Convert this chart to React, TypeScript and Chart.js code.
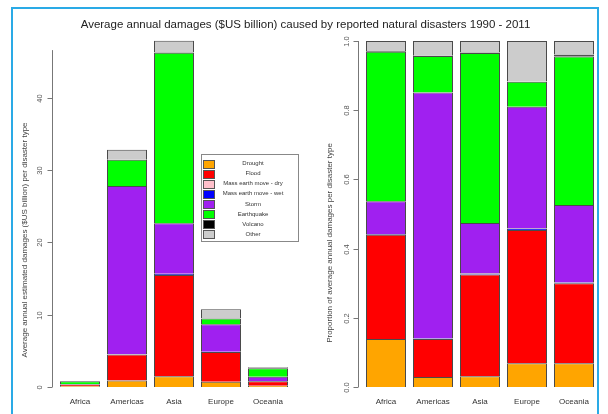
import { useEffect, useRef } from "react";
import { Chart, registerables } from "chart.js";
Chart.register(...registerables);

const chartTitle = "Average annual damages ($US billion) caused by reported natural disasters 1990 - 2011";
const regions = ["Africa", "Americas", "Asia", "Europe", "Oceania"];
const disasterTypes = [
  "Drought",
  "Flood",
  "Mass earth move - dry",
  "Mass earth move - wet",
  "Storm",
  "Earthquake",
  "Volcano",
  "Other",
];
const typeColors = ["#FFA500", "#FF0000", "#FFC0CB", "#0000FF", "#A020F0", "#00FF00", "#000000", "#CCCCCC"];

// Average annual damages, $US billion
const droughtDamage = [0.11, 0.9, 1.5, 0.73, 0.19];
const floodDamage = [0.24, 3.6, 14.0, 4.12, 0.62];
const massDryDamage = [0, 0, 0, 0, 0];
const massWetDamage = [0.005, 0.02, 0.15, 0.04, 0.005];
const stormDamage = [0.075, 23.3, 7.0, 3.8, 0.61];
const earthquakeDamage = [0.35, 3.6, 23.6, 0.8, 1.16];
const volcanoDamage = [0.002, 0.01, 0.05, 0.01, 0.02];
const otherDamage = [0.025, 1.4, 1.6, 1.25, 0.11];

// Proportion of average annual damages
const droughtShare = [0.139, 0.029, 0.031, 0.069, 0.069];
const floodShare = [0.301, 0.11, 0.294, 0.385, 0.231];
const massDryShare = [0, 0, 0, 0, 0];
const massWetShare = [0.002, 0.001, 0.003, 0.004, 0.002];
const stormShare = [0.095, 0.711, 0.146, 0.352, 0.224];
const earthquakeShare = [0.432, 0.106, 0.491, 0.072, 0.429];
const volcanoShare = [0.002, 0.0005, 0.002, 0.001, 0.006];
const otherShare = [0.029, 0.0425, 0.033, 0.117, 0.039];

const damageTicks = [0, 10, 20, 30, 40];
const damageTickLabels = ["0", "10", "20", "30", "40"];
const shareTicks = [0, 0.2, 0.4, 0.6, 0.8, 1.0];
const shareTickLabels = ["0.0", "0.2", "0.4", "0.6", "0.8", "1.0"];
const damageAxisTitle = "Average annual estimated damages ($US billion) per disaster type";
const shareAxisTitle = "Proportion of average annual damages per disaster type";

const damageSeries = [droughtDamage, floodDamage, massDryDamage, massWetDamage, stormDamage, earthquakeDamage, volcanoDamage, otherDamage];
const shareSeries = [droughtShare, floodShare, massDryShare, massWetShare, stormShare, earthquakeShare, volcanoShare, otherShare];

const FONT = "'Liberation Sans', Arial, Helvetica, sans-serif";

type AxisOpts = {
  axisX: number;
  lineTop: number;
  ticks: number[];
  labels: string[];
  labelX: number;
  title: string;
  titleX: number;
  titleY: number;
};

function makeAxisPlugin(o: AxisOpts) {
  return {
    id: "rStyleAxis",
    afterDraw(chart: any) {
      const { ctx } = chart;
      const y = chart.scales.y;
      ctx.save();
      ctx.strokeStyle = "#777";
      ctx.lineWidth = 1;
      ctx.beginPath();
      ctx.moveTo(o.axisX + 0.5, y.getPixelForValue(o.lineTop));
      ctx.lineTo(o.axisX + 0.5, y.getPixelForValue(0));
      ctx.stroke();
      ctx.fillStyle = "#555";
      ctx.font = `7.5px ${FONT}`;
      ctx.textAlign = "center";
      ctx.textBaseline = "middle";
      o.ticks.forEach((t, i) => {
        const py = Math.round(y.getPixelForValue(t)) + 0.5;
        ctx.beginPath();
        ctx.moveTo(o.axisX + 0.5, py);
        ctx.lineTo(o.axisX - 4.5, py);
        ctx.stroke();
        ctx.save();
        ctx.translate(o.labelX, py);
        ctx.rotate(-Math.PI / 2);
        ctx.fillText(o.labels[i], 0, 0);
        ctx.restore();
      });
      ctx.fillStyle = "#444";
      ctx.font = `8px ${FONT}`;
      ctx.save();
      ctx.translate(o.titleX, o.titleY);
      ctx.rotate(-Math.PI / 2);
      ctx.fillText(o.title, 0, 0);
      ctx.restore();
      ctx.restore();
    },
  };
}

const legendPlugin = {
  id: "boxLegend",
  afterDraw(chart: any) {
    const { ctx } = chart;
    const bx = 201, by = 154, bw = 97, bh = 87;
    ctx.save();
    ctx.fillStyle = "#fff";
    ctx.fillRect(bx, by, bw, bh);
    ctx.strokeStyle = "#888";
    ctx.lineWidth = 1;
    ctx.strokeRect(bx + 0.5, by + 0.5, bw, bh);
    ctx.font = `6px ${FONT}`;
    ctx.textAlign = "center";
    ctx.textBaseline = "middle";
    chart.data.datasets.forEach((ds: any, i: number) => {
      const cy = 163.5 + i * 10.1;
      ctx.fillStyle = ds.backgroundColor;
      ctx.fillRect(203, Math.round(cy - 4), 11, 8);
      ctx.strokeStyle = "#555";
      ctx.strokeRect(203.5, Math.round(cy - 4) + 0.5, 11, 8);
      ctx.fillStyle = "#333";
      ctx.fillText(ds.label, 253, cy);
    });
    ctx.restore();
  },
};

function makeConfig(series: number[][], yMax: number, padding: any, axis: AxisOpts, withLegend: boolean): any {
  return {
    type: "bar",
    data: {
      labels: regions,
      datasets: disasterTypes.map((name, i) => ({
        label: name,
        data: series[i],
        backgroundColor: typeColors[i],
        borderColor: "#4a4a4a",
        borderWidth: 1,
        barPercentage: 0.851,
        categoryPercentage: 1,
      })),
    },
    options: {
      animation: false,
      responsive: false,
      maintainAspectRatio: false,
      layout: { padding },
      plugins: {
        legend: { display: false },
        tooltip: { enabled: false },
        title: { display: false },
      },
      scales: {
        x: {
          stacked: true,
          grid: { display: false, drawTicks: false },
          border: { display: false },
          ticks: { padding: 10, color: "#333", font: { family: FONT, size: 8 } },
        },
        y: { stacked: true, display: false, min: 0, max: yMax },
      },
    },
    plugins: withLegend ? [makeAxisPlugin(axis), legendPlugin] : [makeAxisPlugin(axis)],
  };
}

export default function App() {
  const leftRef = useRef<HTMLCanvasElement>(null);
  const rightRef = useRef<HTMLCanvasElement>(null);

  useEffect(() => {
    const left = new Chart(
      leftRef.current!,
      makeConfig(
        damageSeries,
        48,
        { left: 56.5, right: 12.5, top: 40, bottom: 13.4 },
        {
          axisX: 52,
          lineTop: 46.6,
          ticks: damageTicks,
          labels: damageTickLabels,
          labelX: 40,
          title: damageAxisTitle,
          titleX: 25,
          titleY: 240,
        },
        true
      )
    );
    const right = new Chart(
      rightRef.current!,
      makeConfig(
        shareSeries,
        1,
        { left: 58.5, right: 10.5, top: 41, bottom: 13.4 },
        {
          axisX: 54,
          lineTop: 1,
          ticks: shareTicks,
          labels: shareTickLabels,
          labelX: 43,
          title: shareAxisTitle,
          titleX: 26,
          titleY: 243,
        },
        false
      )
    );
    return () => {
      left.destroy();
      right.destroy();
    };
  }, []);

  return (
    <div
      style={{
        position: "absolute",
        left: 0,
        top: 0,
        width: 608,
        height: 414,
        overflow: "hidden",
        background: "#fff",
      }}
    >
      <canvas ref={leftRef} width={304} height={430} style={{ position: "absolute", left: 0, top: 0 }} />
      <canvas ref={rightRef} width={304} height={430} style={{ position: "absolute", left: 304, top: 0 }} />
      <div
        style={{
          position: "absolute",
          left: 0,
          top: 17,
          width: 611,
          textAlign: "center",
          font: `11.5px ${FONT}`,
          lineHeight: "14px",
          color: "#222",
          whiteSpace: "nowrap",
        }}
      >
        {chartTitle}
      </div>
      <div
        style={{
          position: "absolute",
          left: 11,
          top: 7,
          width: 584,
          height: 430,
          borderLeft: "2px solid #2AAAE6",
          borderTop: "2px solid #2AAAE6",
          borderRight: "2px solid #2AAAE6",
          pointerEvents: "none",
        }}
      />
    </div>
  );
}
